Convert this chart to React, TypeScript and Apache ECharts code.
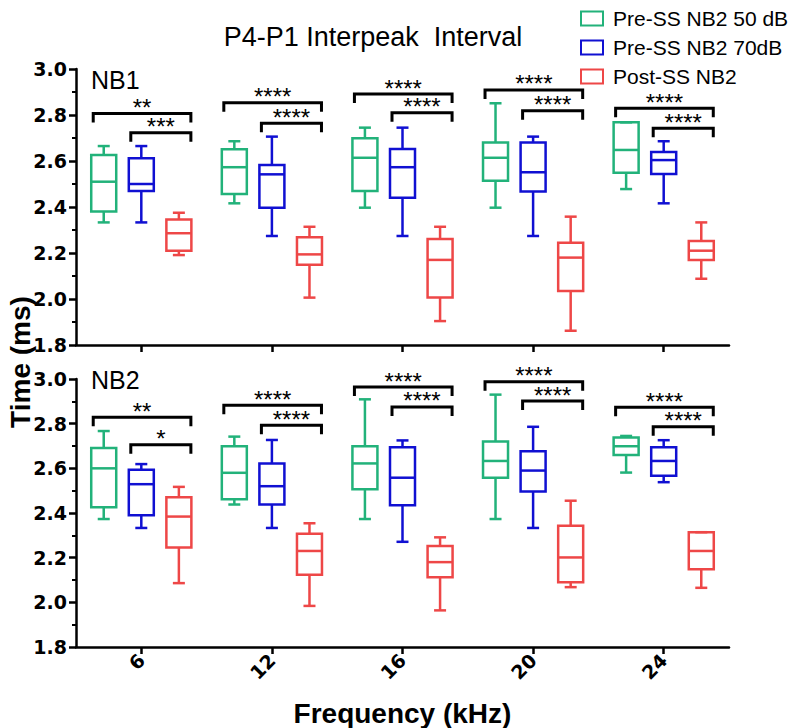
import React, { useEffect, useRef } from "react";
import * as echarts from "echarts";

// ---- data ----
const categories = ["6", "12", "16", "20", "24"];
const seriesNames = ["Pre-SS NB2 50 dB", "Pre-SS NB2 70dB", "Post-SS NB2"];
const colors = ["#22b27a", "#1010d2", "#ee4747"];

// [min, Q1, median, Q3, max]
const pre50NB1 = [
  [2.333, 2.38, 2.51, 2.626, 2.665],
  [2.416, 2.457, 2.573, 2.651, 2.686],
  [2.397, 2.47, 2.614, 2.699, 2.745],
  [2.397, 2.514, 2.614, 2.68, 2.851],
  [2.478, 2.549, 2.648, 2.768, 2.768],
];
const pre70NB1 = [
  [2.333, 2.47, 2.5, 2.612, 2.665],
  [2.274, 2.397, 2.542, 2.583, 2.706],
  [2.274, 2.44, 2.573, 2.652, 2.745],
  [2.274, 2.467, 2.551, 2.68, 2.706],
  [2.416, 2.543, 2.604, 2.639, 2.686],
];
const postNB1 = [
  [2.191, 2.21, 2.286, 2.346, 2.375],
  [2.006, 2.149, 2.194, 2.268, 2.314],
  [1.904, 2.006, 2.17, 2.261, 2.314],
  [1.862, 2.035, 2.18, 2.245, 2.358],
  [2.088, 2.17, 2.21, 2.252, 2.333],
];
const pre50NB2 = [
  [2.373, 2.426, 2.6, 2.691, 2.767],
  [2.438, 2.462, 2.58, 2.699, 2.742],
  [2.373, 2.506, 2.622, 2.699, 2.909],
  [2.373, 2.558, 2.633, 2.72, 2.93],
  [2.581, 2.66, 2.699, 2.738, 2.745],
];
const pre70NB2 = [
  [2.333, 2.39, 2.529, 2.594, 2.619],
  [2.333, 2.438, 2.52, 2.622, 2.727],
  [2.271, 2.435, 2.558, 2.694, 2.725],
  [2.333, 2.496, 2.59, 2.677, 2.786],
  [2.538, 2.567, 2.633, 2.694, 2.726],
];
const postNB2 = [
  [2.086, 2.246, 2.384, 2.471, 2.517],
  [1.984, 2.123, 2.23, 2.307, 2.354],
  [1.964, 2.112, 2.18, 2.252, 2.291],
  [2.068, 2.09, 2.201, 2.343, 2.455],
  [2.065, 2.148, 2.23, 2.314, 2.314],
];

// significance brackets
const outerLevelNB1 = [2.807, 2.853, 2.891, 2.909, 2.829];
const innerLevelNB1 = [2.723, 2.764, 2.81, 2.819, 2.742];
const outerStarsNB1 = ["**", "****", "****", "****", "****"];
const innerStarsNB1 = ["***", "****", "****", "****", "****"];
const outerLevelNB2 = [2.829, 2.883, 2.964, 2.988, 2.873];
const innerLevelNB2 = [2.706, 2.793, 2.875, 2.901, 2.786];
const outerStarsNB2 = ["**", "****", "****", "****", "****"];
const innerStarsNB2 = ["*", "****", "****", "****", "****"];

const yTicks = [1.8, 2.0, 2.2, 2.4, 2.6, 2.8, 3.0];

const BOX_W = 25;
const CAP_HALF = 6;
const LW = 2.5;

function boxOffsets(band: number) {
  const avail = band * 0.8 - 2;
  const gap = (avail / 3) * 0.3;
  const bw = (avail - 2 * gap) / 3;
  const base = bw / 2 - avail / 2;
  return [base, base + gap + bw, base + 2 * (gap + bw)];
}

function makeBoxRender(k: number, color: string) {
  return (params: any, api: any) => {
    const cat = api.value(0);
    const mn = api.value(1), q1 = api.value(2), md = api.value(3), q3 = api.value(4), mx = api.value(5);
    const band = api.size([1, 0])[0];
    const cx = api.coord([cat, md])[0] + boxOffsets(band)[k];
    const y = (v: number) => api.coord([cat, v])[1];
    const yMn = y(mn), yQ1 = y(q1), yMd = y(md), yQ3 = y(q3), yMx = y(mx);
    const st = { stroke: color, lineWidth: LW, fill: "none" };
    const children: any[] = [
      { type: "rect", shape: { x: cx - BOX_W / 2, y: yQ3, width: BOX_W, height: yQ1 - yQ3 }, style: st },
      { type: "line", shape: { x1: cx - BOX_W / 2, y1: yMd, x2: cx + BOX_W / 2, y2: yMd }, style: st },
    ];
    if (yMx < yQ3 - 0.5) {
      children.push({ type: "line", shape: { x1: cx, y1: yQ3, x2: cx, y2: yMx }, style: st });
    }
    children.push({ type: "line", shape: { x1: cx - CAP_HALF, y1: yMx, x2: cx + CAP_HALF, y2: yMx }, style: st });
    if (yMn > yQ1 + 0.5) {
      children.push({ type: "line", shape: { x1: cx, y1: yQ1, x2: cx, y2: yMn }, style: st });
    }
    children.push({ type: "line", shape: { x1: cx - CAP_HALF, y1: yMn, x2: cx + CAP_HALF, y2: yMn }, style: st });
    return { type: "group", children };
  };
}

function makeBracketRender(labels: string[]) {
  return (params: any, api: any) => {
    const cat = api.value(0);
    const lvl = api.value(1);
    const from = api.value(2);
    const band = api.size([1, 0])[0];
    const offs = boxOffsets(band);
    const c = api.coord([cat, lvl]);
    const x1 = c[0] + offs[from] - BOX_W / 2 + 2;
    const x2 = c[0] + offs[2] + BOX_W / 2 - 0.5;
    const yy = c[1];
    return {
      type: "group",
      children: [
        {
          type: "polyline",
          shape: { points: [[x1, yy + 9], [x1, yy], [x2, yy], [x2, yy + 9]] },
          style: { stroke: "#000", lineWidth: 3, fill: "none" },
        },
        {
          type: "text",
          style: {
            text: labels[params.dataIndex],
            x: (x1 + x2) / 2,
            y: yy - 6,
            align: "center",
            verticalAlign: "middle",
            fontSize: 24,
            fontFamily: "Liberation Sans",
            fill: "#000",
          },
        },
      ],
    };
  };
}

function boxData(arr: number[][]) {
  return arr.map((r, i) => [i, ...r]);
}

function bracketData(outer: number[], inner: number[]) {
  return [
    ...outer.map((v, i) => [i, v, 0]),
    ...inner.map((v, i) => [i, v, 1]),
  ];
}

export default function App() {
  const ref = useRef<HTMLDivElement>(null);
  useEffect(() => {
    if (!ref.current) return;
    const chart = echarts.init(ref.current, undefined, { renderer: "svg" });
    const gridLeft = 76;
    const gridWidth = 653;
    const grids = [
      { left: gridLeft, top: 69, width: gridWidth, height: 276 },
      { left: gridLeft, top: 379, width: gridWidth, height: 276 },
    ];
    const axisLine = { show: true, lineStyle: { color: "#000", width: LW } };
    const xAxes = [0, 1].map((g) => ({
      type: "category",
      gridIndex: g,
      data: categories,
      boundaryGap: true,
      axisLine,
      axisTick: { show: true, alignWithLabel: true, length: 7, lineStyle: { color: "#000", width: LW } },
      axisLabel:
        g === 0
          ? { show: false }
          : {
              show: true,
              rotate: 45,
              interval: 0,
              margin: 10,
              color: "#000",
              fontSize: 19,
              fontWeight: "bold",
              fontFamily: "DejaVu Sans",
            },
      splitLine: { show: false },
      name: g === 1 ? "Frequency (kHz)" : "",
      nameLocation: "middle",
      nameGap: 52,
      nameTextStyle: { color: "#000", fontSize: 28, fontWeight: "bold", fontFamily: "Liberation Sans" },
    }));
    const yAxes = [0, 1].map((g) => ({
      type: "value",
      gridIndex: g,
      min: yTicks[0],
      max: yTicks[yTicks.length - 1],
      interval: 0.2,
      axisLine,
      axisTick: { show: true, length: 7, lineStyle: { color: "#000", width: LW } },
      minorTick: { show: true, splitNumber: 2, length: 4, lineStyle: { color: "#000", width: 2 } },
      axisLabel: {
        margin: 9,
        color: "#000",
        fontSize: 19,
        fontWeight: "bold",
        fontFamily: "DejaVu Sans",
        formatter: (v: number) => v.toFixed(1),
      },
      splitLine: { show: false },
    }));

    const panels = [
      { data: [pre50NB1, pre70NB1, postNB1], outer: outerLevelNB1, inner: innerLevelNB1, os: outerStarsNB1, is: innerStarsNB1 },
      { data: [pre50NB2, pre70NB2, postNB2], outer: outerLevelNB2, inner: innerLevelNB2, os: outerStarsNB2, is: innerStarsNB2 },
    ];
    const series: any[] = [];
    panels.forEach((p, g) => {
      p.data.forEach((arr, k) => {
        series.push({
          type: "custom",
          name: seriesNames[k],
          xAxisIndex: g,
          yAxisIndex: g,
          itemStyle: { color: colors[k] },
          encode: { x: 0, y: [1, 2, 3, 4, 5] },
          renderItem: makeBoxRender(k, colors[k]),
          data: boxData(arr),
          clip: false,
        });
      });
      series.push({
        type: "custom",
        name: "sig" + g,
        xAxisIndex: g,
        yAxisIndex: g,
        encode: { x: 0, y: 1 },
        renderItem: makeBracketRender([...p.os, ...p.is]),
        data: bracketData(p.outer, p.inner),
        clip: false,
        silent: true,
      });
    });

    chart.setOption({
      animation: false,
      backgroundColor: "#fff",
      grid: grids,
      xAxis: xAxes,
      yAxis: yAxes,
      legend: {
        orient: "vertical",
        left: 575,
        top: 3,
        itemWidth: 22,
        itemHeight: 14,
        itemGap: 8,
        selectedMode: false,
        textStyle: { color: "#000", fontSize: 21, fontFamily: "Liberation Sans", lineHeight: 21, padding: [0, 0, 0, 5] },
        data: seriesNames.map((n, i) => ({
          name: n,
          icon: "rect",
          itemStyle: { color: "rgba(0,0,0,0)", borderColor: colors[i], borderWidth: 2 },
        })),
      },
      graphic: [
        {
          type: "text",
          x: 373,
          y: 37,
          style: { text: "P4-P1 Interpeak  Interval", align: "center", verticalAlign: "middle", fontSize: 27, fontFamily: "Liberation Sans", fill: "#000" },
        },
        {
          type: "text",
          x: 91,
          y: 80,
          style: { text: "NB1", align: "left", verticalAlign: "middle", fontSize: 25, fontFamily: "Liberation Sans", fill: "#000" },
        },
        {
          type: "text",
          x: 91,
          y: 380,
          style: { text: "NB2", align: "left", verticalAlign: "middle", fontSize: 25, fontFamily: "Liberation Sans", fill: "#000" },
        },
        {
          type: "text",
          x: 20,
          y: 362,
          rotation: Math.PI / 2,
          style: { text: "Time (ms)", align: "center", verticalAlign: "middle", fontSize: 28, fontWeight: "bold", fontFamily: "Liberation Sans", fill: "#000" },
        },
      ],
      series,
    });
    return () => chart.dispose();
  }, []);
  return <div ref={ref} style={{ position: "fixed", left: 0, top: 0, width: 788, height: 728 }} />;
}
